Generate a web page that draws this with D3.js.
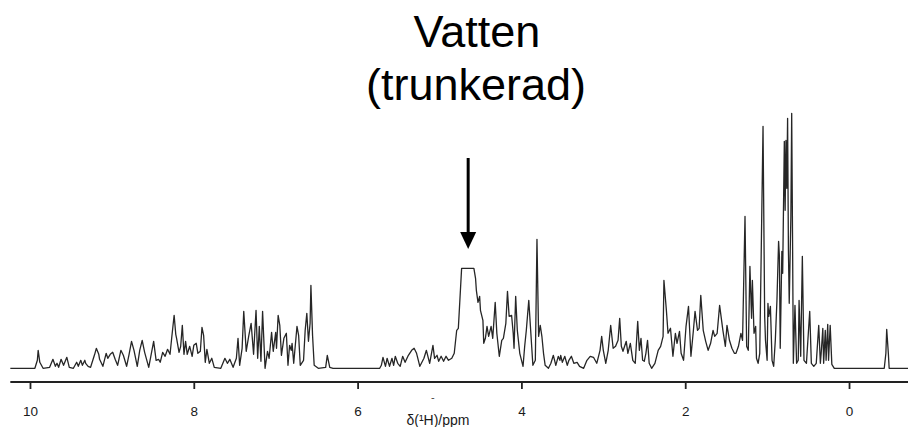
<!DOCTYPE html>
<meta charset="utf-8">
<script src="https://d3js.org/d3.v7.min.js"></script>
<style>
  body { margin: 0; background: #fff; }
</style>

<div id="spectrum"></div>

<script>

  // 1H NMR spectrum: chemical shift (ppm) and intensity (arbitrary units)
  // aromatic / amide region
  var aromaticPpm = [10.24, 9.94, 9.91, 9.90, 9.88, 9.84, 9.76, 9.72, 9.69, 9.67, 9.65, 9.62, 9.59, 9.55, 9.52,
    9.47, 9.43, 9.41, 9.38, 9.36, 9.33, 9.32, 9.29, 9.26, 9.21, 9.19, 9.16, 9.15, 9.11, 9.07, 9.05, 9.02,
    8.99, 8.96, 8.93, 8.89, 8.86, 8.82, 8.79, 8.76, 8.73, 8.69, 8.66, 8.63, 8.60, 8.55, 8.52, 8.49, 8.46,
    8.43, 8.41, 8.38, 8.35, 8.32, 8.29, 8.27, 8.24, 8.22, 8.21, 8.18, 8.16, 8.14, 8.12, 8.10, 8.08, 8.05,
    8.02, 8.00, 7.97, 7.95, 7.92, 7.90, 7.88, 7.86, 7.84, 7.81, 7.78, 7.75, 7.67, 7.62, 7.59, 7.56, 7.52,
    7.48, 7.46, 7.44, 7.41, 7.39, 7.36, 7.33, 7.30, 7.27, 7.24, 7.22, 7.20, 7.18, 7.16, 7.13, 7.10, 7.08,
    7.05, 7.03, 7.00, 6.99, 6.97, 6.95, 6.93, 6.90, 6.87, 6.85, 6.83, 6.81, 6.80, 6.78, 6.74, 6.72, 6.70,
    6.66, 6.64, 6.62, 6.60, 6.58, 6.57, 6.55, 6.53, 6.48, 6.39, 6.37, 6.34, 6.30];
  var aromaticInt = [0, 0, 8, 18, 6, 0, 1, 9, 2, 5, 1, 9, 3, 11, 1,
    0, 6, 2, 8, 3, 8, 5, 2, 1, 14, 20, 14, 9, 2, 15, 10, 14,
    16, 9, 3, 18, 13, 2, 14, 27, 18, 2, 18, 28, 16, 1, 14, 27, 8,
    9, 6, 16, 12, 19, 14, 30, 53, 34, 30, 16, 22, 43, 14, 27, 14, 22,
    12, 23, 25, 15, 17, 41, 33, 6, 19, 5, 10, 1, 0, 10, 5, 9, 1,
    10, 30, 3, 20, 57, 17, 32, 45, 14, 58, 10, 42, 7, 57, 0, 17, 10,
    36, 17, 36, 20, 53, 43, 13, 30, 35, 3, 23, 18, 25, 5, 42, 33, 3,
    8, 38, 55, 27, 45, 83, 33, 3, 0, 1, 13, 1, 0];

  // alpha-H region with the truncated water signal
  var waterPpm = [5.73, 5.71, 5.69, 5.66, 5.64, 5.61, 5.58, 5.56, 5.54, 5.51, 5.48, 5.45, 5.42, 5.38, 5.34,
    5.31, 5.28, 5.24, 5.19, 5.16, 5.12, 5.08, 5.06, 5.03, 5.01, 4.98, 4.95, 4.92, 4.89, 4.85, 4.82, 4.79,
    4.77, 4.73, 4.58, 4.56, 4.55, 4.53, 4.51, 4.50, 4.47, 4.46, 4.44, 4.42, 4.40, 4.37, 4.35, 4.32, 4.30,
    4.27, 4.24, 4.22, 4.19, 4.17, 4.15, 4.12, 4.10, 4.09, 4.07, 4.05, 4.02, 3.98, 3.96, 3.94, 3.91, 3.89,
    3.86, 3.83, 3.81, 3.79, 3.77, 3.75, 3.73, 3.71, 3.67, 3.64, 3.61, 3.58, 3.55, 3.53, 3.52, 3.50, 3.47,
    3.44, 3.42, 3.39, 3.36, 3.32, 3.29, 3.24];
  var waterInt = [0, 3, 11, 2, 10, 2, 10, 3, 12, 5, 2, 12, 6, 13, 18,
    20, 15, 2, 10, 18, 5, 23, 10, 13, 7, 12, 7, 12, 8, 10, 15, 38,
    40, 100, 100, 90, 78, 66, 72, 58, 48, 25, 30, 42, 32, 42, 30, 66, 35,
    12, 28, 30, 45, 77, 52, 53, 35, 20, 72, 38, 15, 2, 22, 38, 68, 42,
    3, 8, 129, 32, 43, 32, 15, 3, 0, 5, 13, 3, 12, 8, 13, 6, 12,
    3, 8, 12, 5, 6, 2, 0];

  // aliphatic region and the reference signal
  var aliphaticPpm = [3.20, 3.16, 3.12, 3.08, 3.04, 3.02, 3.00, 2.97, 2.94, 2.91, 2.88, 2.85, 2.82, 2.80, 2.78,
    2.76, 2.72, 2.70, 2.67, 2.64, 2.61, 2.58, 2.56, 2.54, 2.52, 2.50, 2.48, 2.46, 2.44, 2.41, 2.37, 2.33,
    2.30, 2.27, 2.26, 2.23, 2.21, 2.18, 2.15, 2.12, 2.10, 2.07, 2.05, 2.02, 1.99, 1.96, 1.93, 1.90, 1.88,
    1.85, 1.83, 1.81, 1.78, 1.75, 1.72, 1.69, 1.66, 1.64, 1.61, 1.58, 1.54, 1.51, 1.49, 1.46, 1.43, 1.40,
    1.38, 1.35, 1.32, 1.30, 1.27, 1.25, 1.23, 1.21, 1.19, 1.18, 1.16, 1.14, 1.13, 1.11, 1.09, 1.07, 1.05,
    1.03, 1.02, 1.00, 0.99, 0.98, 0.96, 0.94, 0.92, 0.90, 0.88, 0.86, 0.85, 0.84, 0.82, 0.81, 0.79, 0.78,
    0.77, 0.76, 0.75, 0.74, 0.73, 0.71, 0.70, 0.69, 0.68, 0.66, 0.64, 0.62, 0.61, 0.59, 0.57, 0.55, 0.52,
    0.48, 0.46, 0.43, 0.40, 0.37, 0.35, 0.34, 0.32, 0.31, 0.29, 0.28, 0.26, 0.25, 0.23, 0.21, 0.18, -0.43,
    -0.45, -0.46, -0.48, -0.49, -0.72];
  var aliphaticInt = [8, 12, 11, 5, 18, 32, 18, 5, 18, 43, 20, 22, 28, 50, 22,
    17, 27, 15, 25, 8, 5, 47, 18, 30, 8, 7, 15, 28, 5, 0, 5, 18,
    22, 32, 88, 58, 35, 40, 12, 35, 25, 37, 15, 8, 42, 62, 12, 38, 57,
    38, 40, 73, 38, 27, 18, 25, 38, 32, 35, 63, 38, 22, 43, 28, 20, 15,
    15, 22, 35, 28, 152, 22, 18, 102, 50, 88, 35, 42, 10, 5, 15, 128, 242,
    52, 28, 8, 65, 52, 62, 8, 2, 28, 68, 127, 112, 20, 117, 95, 227, 158,
    228, 180, 250, 118, 65, 152, 255, 135, 5, 63, 5, 8, 68, 12, 112, 8, 5,
    57, 5, 2, 5, 43, 5, 15, 40, 5, 38, 8, 44, 8, 43, 4, 0, 0,
    15, 39, 15, 0, 0];

  var tickValues = [10, 8, 6, 4, 2, 0];

  var width = 908,
      height = 427;

  var svg = d3.select("#spectrum")
    .append("svg")
      .attr("width", width)
      .attr("height", height);

  // ppm runs right to left
  var x = d3.scaleLinear()
    .domain([10.366, -0.72])
    .range([0, width]);

  var y = d3.scaleLinear()
    .domain([0, 260])
    .range([368.3, 108.3]);

  // glue the regions together into one trace
  var spectrum = [];
  [[aromaticPpm, aromaticInt], [waterPpm, waterInt], [aliphaticPpm, aliphaticInt]].forEach(function(r) {
    r[0].forEach(function(p, i) { spectrum.push({ppm: p, val: r[1][i]}); });
  });

  var line = d3.line()
    .x(function(d) { return x(d.ppm); })
    .y(function(d) { return y(d.val); });

  svg.append("path")
    .datum(spectrum)
    .attr("fill", "none")
    .attr("stroke", "#262626")
    .attr("stroke-width", 1.3)
    .attr("stroke-linejoin", "round")
    .attr("d", line);

  // X axis
  var axisY = 382;
  var xAxis = svg.append("g")
    .attr("transform", "translate(0," + axisY + ")")
    .call(d3.axisBottom(x)
      .tickValues(tickValues)
      .tickFormat(d3.format("d"))
      .tickSize(7)
      .tickSizeOuter(0)
      .tickPadding(17));

  xAxis.select(".domain").remove();
  xAxis.selectAll(".tick line")
    .attr("stroke", "#222")
    .attr("stroke-width", 1.8);
  xAxis.selectAll(".tick text")
    .attr("fill", "#1a1a1a")
    .style("font-family", "Liberation Sans, Arial, sans-serif")
    .style("font-size", "13.5px");

  svg.append("line")
    .attr("x1", x(10.24))
    .attr("x2", width)
    .attr("y1", axisY)
    .attr("y2", axisY)
    .attr("stroke", "#222")
    .attr("stroke-width", 2);

  // axis label
  svg.append("text")
    .attr("x", 438)
    .attr("y", 425)
    .attr("text-anchor", "middle")
    .style("font-family", "Liberation Sans, Arial, sans-serif")
    .style("font-size", "14px")
    .attr("fill", "#1a1a1a")
    .text("δ(¹H)/ppm");

  // stray mark from the scan
  svg.append("text")
    .attr("x", 431)
    .attr("y", 401)
    .style("font-family", "Liberation Sans, Arial, sans-serif")
    .style("font-size", "11px")
    .attr("fill", "#444")
    .text("-");

  // annotation for the water peak
  var waterX = x(4.65);

  svg.append("text")
    .attr("x", 477)
    .attr("y", 47)
    .attr("text-anchor", "middle")
    .style("font-family", "Liberation Sans, Arial, sans-serif")
    .style("font-size", "45px")
    .text("Vatten");

  svg.append("text")
    .attr("x", 476)
    .attr("y", 100)
    .attr("text-anchor", "middle")
    .style("font-family", "Liberation Sans, Arial, sans-serif")
    .style("font-size", "45px")
    .text("(trunkerad)");

  svg.append("line")
    .attr("x1", waterX)
    .attr("x2", waterX)
    .attr("y1", 158)
    .attr("y2", 235)
    .attr("stroke", "#000")
    .attr("stroke-width", 3);

  svg.append("path")
    .attr("d", "M" + (waterX - 8) + ",232L" + (waterX + 8) + ",232L" + waterX + ",249Z")
    .attr("fill", "#000");

</script>
